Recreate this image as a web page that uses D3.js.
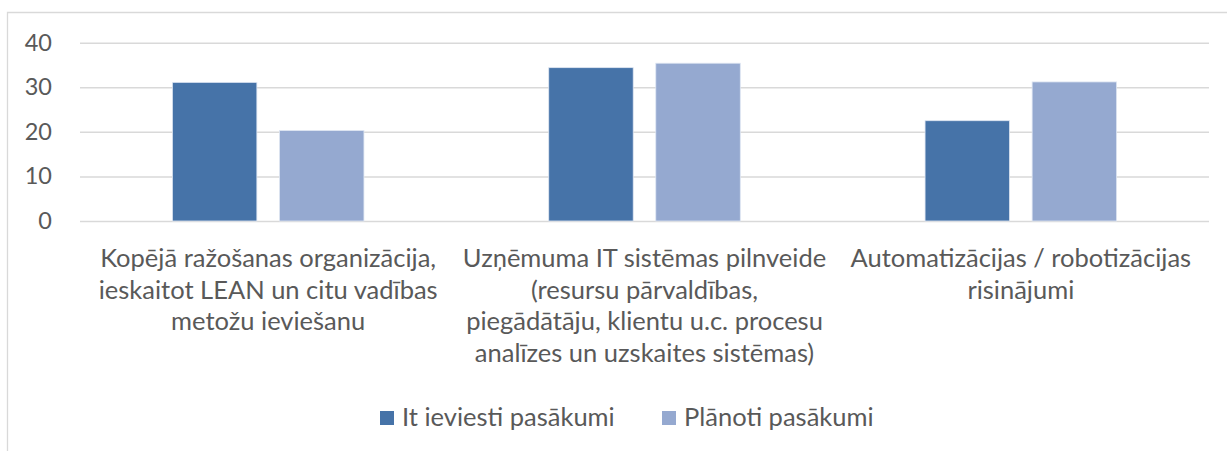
<!DOCTYPE html>
<html>
<head>
<meta charset="utf-8">
<script src="https://cdn.jsdelivr.net/npm/d3@7"></script>
<style>
  body { margin: 0; background: #fff; }
  svg text { font-family: Lato, "Open Sans", sans-serif; fill: #595959; }
</style>
</head>
<body>
<div id="chart"></div>
<script>
// Data
const categories = [
    'Kopējā ražošanas organizācija, ieskaitot LEAN un citu vadības metožu ieviešanu',
    'Uzņēmuma IT sistēmas pilnveide (resursu pārvaldības, piegādātāju, klientu u.c. procesu analīzes un uzskaites sistēmas)',
    'Automatizācijas / robotizācijas risinājumi'
];
const categoryLines = [
    ['Kopējā ražošanas organizācija,', 'ieskaitot LEAN un citu vadības', 'metožu ieviešanu'],
    ['Uzņēmuma IT sistēmas pilnveide', '(resursu pārvaldības,', 'piegādātāju, klientu u.c. procesu', 'analīzes un uzskaites sistēmas)'],
    ['Automatizācijas / robotizācijas', 'risinājumi']
];
const seriesNames = ['It ieviesti pasākumi', 'Plānoti pasākumi'];
const implemented = [31.1, 34.4, 22.5];
const planned = [20.3, 35.4, 31.2];
const yTicks = [0, 10, 20, 30, 40];

const colors = ['#4673a8', '#95a9d0'];

// Dimensions
const W = 1227, H = 451;
const margin = { top: 42.7, left: 80, right: 18 };
const plotW = W - margin.left - margin.right;
const plotH = 221 - margin.top;

const svg = d3.select('#chart')
    .append('svg')
    .attr('width', W)
    .attr('height', H);

// Chart frame
svg.append('path')
    .attr('d', `M7.5,${H} V12.5 H${W}`)
    .attr('fill', 'none')
    .attr('stroke', '#d9d9d9')
    .attr('stroke-width', 1.3);

const g = svg.append('g')
    .attr('transform', `translate(${margin.left}, ${margin.top})`);

// Scales
const x0 = d3.scaleBand()
    .domain(categories)
    .range([0, plotW])
    .paddingInner(0.491)
    .paddingOuter(0.2455);

const x1 = d3.scaleBand()
    .domain(seriesNames)
    .range([0, x0.bandwidth()])
    .paddingInner(0.211);

const y = d3.scaleLinear()
    .domain([0, 40])
    .range([plotH, 0]);

// Y axis with gridlines
const yAxis = g.append('g')
    .call(d3.axisLeft(y).tickValues(yTicks).tickSize(-plotW).tickPadding(28));
yAxis.select('.domain').remove();
yAxis.selectAll('.tick line')
    .attr('stroke', '#d9d9d9')
    .attr('stroke-width', 1.5);
yAxis.selectAll('.tick text')
    .style('font-size', '23.5px')
    .attr('fill', '#595959');

// Bars
const rows = categories.map((c, i) => ({ cat: c, values: [implemented[i], planned[i]] }));

const groups = g.selectAll('.group')
    .data(rows)
    .enter()
    .append('g')
    .attr('class', 'group')
    .attr('transform', d => `translate(${x0(d.cat)}, 0)`);

groups.selectAll('rect')
    .data(d => d.values.map((v, j) => ({ name: seriesNames[j], value: v, j })))
    .enter()
    .append('rect')
    .attr('x', d => x1(d.name))
    .attr('y', d => y(d.value))
    .attr('width', x1.bandwidth())
    .attr('height', d => plotH - y(d.value))
    .attr('fill', d => colors[d.j])
    .attr('stroke', '#dfe6f2')
    .attr('stroke-width', 0.8);

// X axis (category labels)
const xAxis = g.append('g')
    .attr('transform', `translate(0, ${plotH})`)
    .call(d3.axisBottom(x0).tickSize(0).tickFormat(''));
xAxis.select('.domain').remove();

xAxis.selectAll('.tick')
    .append('text')
    .attr('text-anchor', 'middle')
    .style('font-size', '25.5px')
    .selectAll('tspan')
    .data((d, i) => categoryLines[i])
    .enter()
    .append('tspan')
    .attr('x', 0)
    .attr('y', (d, i) => 46 + i * 31.5)
    .text(d => d);

// Legend
const legendX = [380, 662];
const legend = svg.append('g');

const items = legend.selectAll('.item')
    .data(seriesNames)
    .enter()
    .append('g')
    .attr('class', 'item')
    .attr('transform', (d, i) => `translate(${legendX[i]}, 0)`);

items.append('rect')
    .attr('x', 0)
    .attr('y', 411)
    .attr('width', 14)
    .attr('height', 14)
    .attr('fill', (d, i) => colors[i]);

items.append('text')
    .attr('x', 22)
    .attr('y', 426)
    .style('font-size', '25.5px')
    .text(d => d);
</script>
</body>
</html>
